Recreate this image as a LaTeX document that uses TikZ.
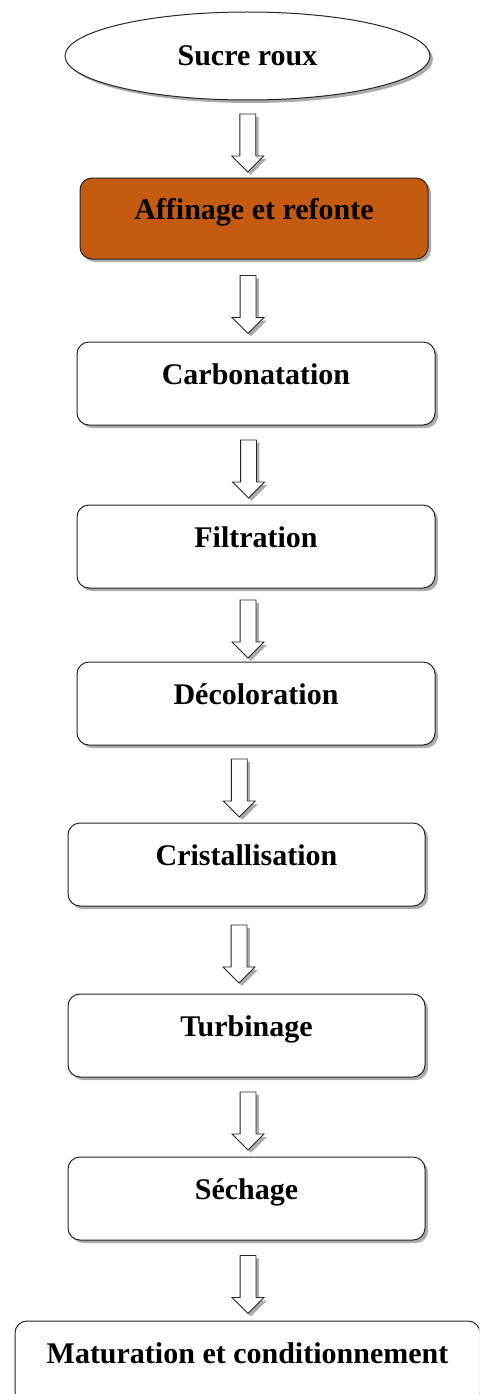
\documentclass[tikz,border=0pt]{standalone}
\usepackage{fontspec}
\setmainfont{Liberation Serif}
\usepackage{xcolor}
\usepackage{tikz}
\usetikzlibrary{positioning, shapes.geometric, shapes.arrows, shadows}

\definecolor{rouxbrun}{RGB}{197,90,17}

\begin{document}
\begin{tikzpicture}[
x=1pt, y=1pt,
every node/.style={font=\fontsize{30}{36}\selectfont\bfseries},
ombre/.style={drop shadow={shadow xshift=3pt, shadow yshift=-3pt, fill=black!55, opacity=0.6}},
etape/.style={
    draw=black!85, line width=1pt, rounded corners=12pt, fill=white,
    minimum width=358pt, inner xsep=0pt, inner ysep=0pt,
    text height=42pt, text depth=41pt, ombre
},
debut/.style={ellipse, draw=black!85, line width=1pt, fill=white,
    minimum width=365pt, minimum height=88pt, inner sep=0pt, ombre},
affine/.style={fill=rouxbrun, minimum width=348pt, text height=41pt, text depth=40pt},
fleche/.style={single arrow, draw=black!85, line width=0.8pt, fill=white,
    shape border rotate=270, minimum height=58pt, inner sep=7.5pt,
    single arrow head extend=8pt, ombre}
]

\clip (0,0) rectangle (479,-1394);

\node (sucre) [debut] at (247.5,-56) {Sucre roux};

\node (affinage) [etape, affine, below=77pt of sucre, xshift=6.5pt] {Affinage et refonte};
\node (carbo) [etape, below=82pt of affinage, xshift=2pt] {Carbonatation};
\node (filtre) [etape, below=79pt of carbo] {Filtration};
\node (decolor) [etape, below=73pt of filtre] {D\'ecoloration};
\node (cristal) [etape, below=77pt of decolor, xshift=-9.5pt, minimum width=357pt] {Cristallisation};
\node (turbin) [etape, below=87pt of cristal, minimum width=357pt] {Turbinage};
\node (sechage) [etape, below=79pt of turbin, minimum width=357pt] {S\'echage};
\node (matur) [etape, below=80pt of sechage, xshift=1pt, minimum width=465pt] {Maturation et conditionnement};

% fleches creuses
\path (sucre.south) -- (affinage.north) node[midway, fleche, xshift=-3pt] {};
\path (affinage.south) -- (carbo.north) node[midway, fleche, xshift=-7pt] {};
\path (carbo.south) -- (filtre.north) node[midway, fleche, xshift=-7.5pt] {};
\path (filtre.south) -- (decolor.north) node[midway, fleche, xshift=-8pt] {};
\path (decolor.south) -- (cristal.north) node[midway, fleche, xshift=-12pt] {};
\path (cristal.south) -- (turbin.north) node[midway, fleche, xshift=-7.5pt] {};
\path (turbin.south) -- (sechage.north) node[midway, fleche, xshift=1.5pt] {};
\path (sechage.south) -- (matur.north) node[midway, fleche, xshift=1pt] {};

\end{tikzpicture}
\end{document}
